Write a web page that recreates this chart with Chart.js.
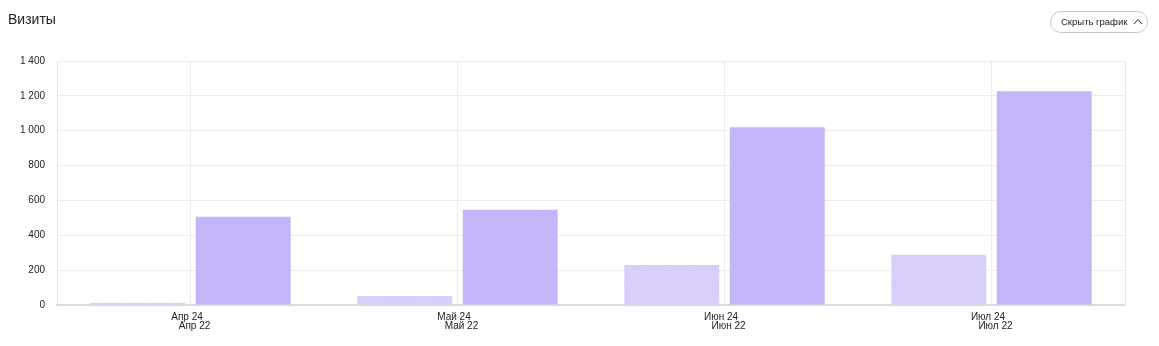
<!DOCTYPE html>
<html>
<head>
<meta charset="utf-8">
<script src="https://cdn.jsdelivr.net/npm/chart.js@4.4.1/dist/chart.umd.min.js"></script>
<style>
  html, body { margin: 0; padding: 0; background: #fff; width: 1159px; height: 346px; overflow: hidden; font-family: "Liberation Sans", Arial, sans-serif; }
  #wrap { position: absolute; left: 0; top: 0; width: 1159px; height: 346px; }
  #title { position: absolute; left: 8px; top: 11px; font-size: 14px; color: #222; }
  #btn { position: absolute; left: 1050px; top: 11px; width: 96px; height: 20px; border: 1px solid #c8c8c8; border-radius: 11px; font-size: 9.5px; color: #222; box-sizing: content-box; }
  #btn span { position: absolute; left: 10px; top: 4px; white-space: nowrap; }
  #btn svg { position: absolute; left: 82px; top: 6px; }
</style>
</head>
<body>
<div id="wrap"><canvas id="c" width="1159" height="346"></canvas></div>
<div id="title">Визиты</div>
<div id="btn"><span>Скрыть график</span><svg width="10" height="7" viewBox="0 0 10 7"><polyline points="1,6 5,1.5 9,6" fill="none" stroke="#333" stroke-width="1"/></svg></div>
<script>
const labels24 = ['Апр 24', 'Май 24', 'Июн 24', 'Июл 24'];
const labels22 = ['Апр 22', 'Май 22', 'Июн 22', 'Июл 22'];
const visits22 = [12, 52, 230, 288];
const visits24 = [507, 547, 1020, 1227];
const yMax = 1400;
const yStep = 200;

function hatch() {
  const p = document.createElement('canvas');
  p.width = 3; p.height = 3;
  const g = p.getContext('2d');
  g.fillStyle = 'rgb(221,212,251)';
  g.fillRect(0, 0, 3, 3);
  g.fillStyle = 'rgb(207,195,249)';
  g.fillRect(0, 2, 1, 1);
  g.fillRect(1, 1, 1, 1);
  g.fillRect(2, 0, 1, 1);
  return g.createPattern(p, 'repeat');
}

const ctx = document.getElementById('c').getContext('2d');

const extras = {
  id: 'extras',
  afterDraw(chart) {
    const c = chart.ctx, a = chart.chartArea, x = chart.scales.x;
    c.save();
    c.strokeStyle = '#e8e8e8';
    c.lineWidth = 1;
    c.beginPath();
    c.moveTo(a.right + 0.5, a.top);
    c.lineTo(a.right + 0.5, a.bottom);
    c.stroke();
    c.fillStyle = '#222';
    c.font = '10px "Liberation Sans", Arial, sans-serif';
    c.textAlign = 'center';
    c.textBaseline = 'middle';
    labels24.forEach((l, i) => {
      const px = x.getPixelForValue(i);
      c.fillText(l, px - 3.5, 317);
      c.fillText(labels22[i], px + 4, 326.5);
    });
    c.restore();
  }
};

new Chart(ctx, {
  type: 'bar',
  data: {
    labels: labels24,
    datasets: [
      { label: '2022', data: visits22, backgroundColor: hatch(), categoryPercentage: 0.79, barPercentage: 0.9 },
      { label: '2024', data: visits24, backgroundColor: 'rgb(196,181,248)', categoryPercentage: 0.79, barPercentage: 0.9 }
    ]
  },
  plugins: [extras],
  options: {
    responsive: false,
    animation: false,
    layout: { padding: { left: 0, right: 34, top: 61, bottom: 0 } },
    plugins: { legend: { display: false }, tooltip: { enabled: false }, title: { display: false } },
    scales: {
      x: {
        grid: { offset: false, color: '#ececec', drawTicks: false },
        border: { color: '#dcdcdc', width: 2 },
        ticks: { display: false },
        afterFit(s) { s.height = 41; }
      },
      y: {
        min: 0, max: yMax,
        grid: { color: '#ececec', drawTicks: false },
        border: { color: '#e8e8e8', width: 1 },
        ticks: {
          stepSize: yStep,
          padding: 12,
          color: '#222',
          font: { family: '"Liberation Sans", Arial, sans-serif', size: 10 },
          callback: v => String(v).replace(/\B(?=(\d{3})+(?!\d))/g, ' ')
        },
        afterFit(s) { s.width = 57; }
      }
    }
  }
});
</script>
</body>
</html>
